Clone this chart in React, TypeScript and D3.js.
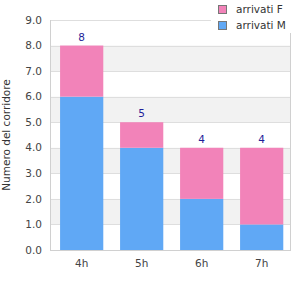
import React, { useEffect, useRef } from "react";
import * as d3 from "d3";

const categories = ["4h", "5h", "6h", "7h"];
const arrivatiM = [6, 4, 2, 1];
const arrivatiF = [2, 1, 2, 3];
const yTicks = [0, 1, 2, 3, 4, 5, 6, 7, 8, 9];
const seriesNames = ["arrivati F", "arrivati M"];
const seriesColors = ["#f283b9", "#60a8f5"];

const App: React.FC = () => {
  const svgRef = useRef<SVGSVGElement>(null);

  useEffect(() => {
    if (!svgRef.current) return;
    const svg = d3.select(svgRef.current);
    svg.selectAll("*").remove();

    const font = "DejaVu Sans, sans-serif";
    const left = 50, right = 290, top = 20, bottom = 250;

    const x = d3.scaleBand<string>()
      .domain(categories)
      .range([left, right])
      .paddingInner(0.28)
      .paddingOuter(0.14)
      .align(0.6);

    const y = d3.scaleLinear().domain([0, 9]).range([bottom, top]);

    svg.append("rect").attr("width", 300).attr("height", 300).attr("fill", "#fff");

    // alternating bands
    svg.selectAll(".band")
      .data([1, 3, 5, 7])
      .enter().append("rect")
      .attr("x", left)
      .attr("width", right - left)
      .attr("y", d => y(d + 1))
      .attr("height", d => y(d) - y(d + 1))
      .attr("fill", "#f2f2f2");

    svg.selectAll(".grid")
      .data(yTicks)
      .enter().append("line")
      .attr("x1", left)
      .attr("x2", right)
      .attr("y1", d => Math.round(y(d)) + 0.5)
      .attr("y2", d => Math.round(y(d)) + 0.5)
      .attr("stroke", "#dedede");

    // axis frame
    svg.append("line").attr("x1", left + 0.5).attr("x2", left + 0.5).attr("y1", top).attr("y2", bottom + 1)
      .attr("stroke", "#d0d0d0");
    svg.append("line").attr("x1", right + 0.5).attr("x2", right + 0.5).attr("y1", top).attr("y2", bottom + 1)
      .attr("stroke", "#d0d0d0");
    svg.append("line").attr("x1", left).attr("x2", right + 1).attr("y1", bottom + 0.5).attr("y2", bottom + 0.5)
      .attr("stroke", "#d0d0d0");

    // stacked bars
    const bars = svg.append("g");
    categories.forEach((c, i) => {
      bars.append("rect")
        .attr("x", x(c)!)
        .attr("width", x.bandwidth())
        .attr("y", y(arrivatiM[i]))
        .attr("height", y(0) - y(arrivatiM[i]))
        .attr("fill", seriesColors[1]);
      bars.append("rect")
        .attr("x", x(c)!)
        .attr("width", x.bandwidth())
        .attr("y", y(arrivatiM[i] + arrivatiF[i]))
        .attr("height", y(arrivatiM[i]) - y(arrivatiM[i] + arrivatiF[i]))
        .attr("fill", seriesColors[0]);
      bars.append("text")
        .attr("x", x(c)! + x.bandwidth() / 2)
        .attr("y", y(arrivatiM[i] + arrivatiF[i]) - 5)
        .attr("text-anchor", "middle")
        .attr("font-family", font)
        .attr("font-size", 10.5)
        .attr("fill", "#1f1f99")
        .text(arrivatiM[i] + arrivatiF[i]);
    });

    // y tick labels
    svg.selectAll(".ytick")
      .data(yTicks)
      .enter().append("text")
      .attr("x", 42)
      .attr("y", d => y(d))
      .attr("dy", "0.35em")
      .attr("text-anchor", "end")
      .attr("font-family", font)
      .attr("font-size", 10.5)
      .attr("fill", "#444")
      .text(d => d.toFixed(1));

    // x labels
    svg.selectAll(".xtick")
      .data(categories)
      .enter().append("text")
      .attr("x", d => x(d)! + x.bandwidth() / 2)
      .attr("y", 267)
      .attr("text-anchor", "middle")
      .attr("font-family", font)
      .attr("font-size", 10.5)
      .attr("fill", "#444")
      .text(d => d);

    svg.append("text")
      .attr("transform", `translate(6.5,${(top + bottom) / 2}) rotate(-90)`)
      .attr("text-anchor", "middle")
      .attr("dy", "0.35em")
      .attr("font-family", font)
      .attr("font-size", 10.5)
      .attr("fill", "#333")
      .text("Numero del corridore");

    // legend
    svg.append("rect").attr("x", 211).attr("y", 0).attr("width", 89).attr("height", 33).attr("fill", "#fff");
    const legend = svg.selectAll(".legend")
      .data(seriesNames)
      .enter().append("g")
      .attr("transform", (_d, i) => `translate(218,${5 + i * 16})`);
    legend.append("rect")
      .attr("x", 0.5)
      .attr("y", 0.5)
      .attr("width", 8)
      .attr("height", 8)
      .attr("fill", (_d, i) => seriesColors[i])
      .attr("stroke", "#777");
    legend.append("text")
      .attr("x", 18)
      .attr("y", 4.5)
      .attr("dy", "0.35em")
      .attr("font-family", font)
      .attr("font-size", 10.5)
      .attr("fill", "#333")
      .text(d => d);
  }, []);

  return (
    <svg ref={svgRef} width={300} height={300} style={{ position: "absolute", left: 0, top: 0 }} />
  );
};

export default App;
